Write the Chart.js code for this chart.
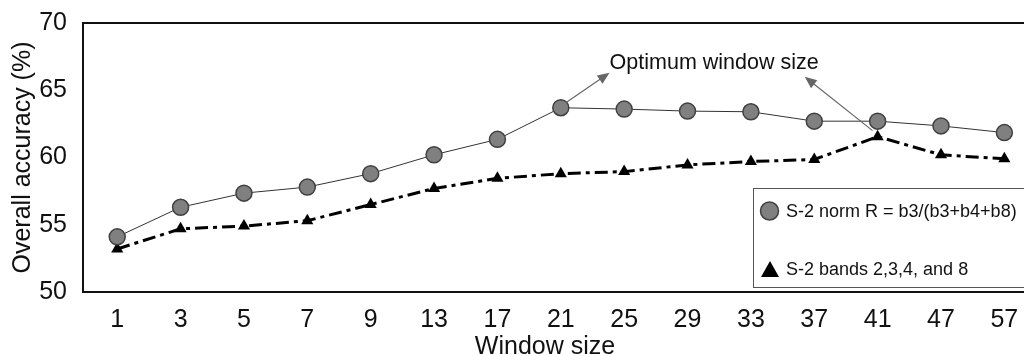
<!DOCTYPE html>
<html>
<head>
<meta charset="utf-8">
<script src="https://cdn.jsdelivr.net/npm/chart.js@4"></script>
<style>
  body { margin:0; background:#fff; overflow:hidden; }
</style>
</head>
<body>
<canvas id="chart" width="1024" height="356"></canvas>
<script>
let windowSizes = ['1','3','5','7','9','13','17','21','25','29','33','37','41','47','57'];
let normR = [54.1,56.3,57.35,57.8,58.8,60.2,61.35,63.7,63.6,63.45,63.4,62.7,62.7,62.35,61.85];
let bands = [53.2,54.7,54.9,55.3,56.5,57.7,58.45,58.8,58.95,59.45,59.7,59.85,61.55,60.2,59.9];
let yTicks = [50,55,60,65,70];
let legendLabels = ['S-2 norm R = b3/(b3+b4+b8)','S-2 bands 2,3,4, and 8'];
let note = 'Optimum window size';

const font = 'Liberation Sans, Arial, sans-serif';

// points sit at the category index; the axis shows the window size
let toPoints = (arr)=> arr.map((v,i)=>({x:i, y:v}));

function arrow(c, x1, y1, x2, y2){
    let a = Math.atan2(y2-y1, x2-x1);
    c.beginPath();
    c.moveTo(x1,y1);
    c.lineTo(x2 - 8*Math.cos(a), y2 - 8*Math.sin(a));
    c.stroke();
    c.beginPath();
    c.moveTo(x2,y2);
    c.lineTo(x2 - 12*Math.cos(a) + 5*Math.sin(a), y2 - 12*Math.sin(a) - 5*Math.cos(a));
    c.lineTo(x2 - 12*Math.cos(a) - 5*Math.sin(a), y2 - 12*Math.sin(a) + 5*Math.cos(a));
    c.closePath();
    c.fill();
}

let extras = {
    id:'extras',
    afterDatasetsDraw(chart){
        let c = chart.ctx, a = chart.chartArea;
        let xs = chart.scales.x, ys = chart.scales.y;
        c.save();
        // frame (right side falls outside the picture)
        c.strokeStyle = '#111';
        c.lineWidth = 2;
        c.strokeRect(a.left, a.top, chart.width + 5 - a.left, a.bottom - a.top);

        // arrows + note
        c.strokeStyle = '#666';
        c.fillStyle = '#666';
        c.lineWidth = 1.2;
        arrow(c, xs.getPixelForValue(7) + 5, ys.getPixelForValue(normR[7]) - 5,
                 xs.getPixelForValue(7.77), ys.getPixelForValue(66.3));
        arrow(c, xs.getPixelForValue(11.92), ys.getPixelForValue(bands[12]) - 6,
                 xs.getPixelForValue(10.85), ys.getPixelForValue(66.0));
        c.fillStyle = '#111';
        c.font = '21.5px ' + font;
        c.textBaseline = 'middle';
        c.textAlign = 'left';
        c.fillText(note, xs.getPixelForValue(7.77), ys.getPixelForValue(67.0));

        // legend box
        let lx = 753, ly = 188;
        c.fillStyle = '#fff';
        c.fillRect(lx, ly, 300, 99);
        c.strokeStyle = '#555';
        c.lineWidth = 1;
        c.strokeRect(lx + 0.5, ly + 0.5, 300, 99);
        c.fillStyle = '#808080';
        c.strokeStyle = '#404040';
        c.lineWidth = 1.5;
        c.beginPath();
        c.arc(769.5, 211, 9, 0, Math.PI*2);
        c.fill(); c.stroke();
        c.fillStyle = '#000';
        c.beginPath();
        c.moveTo(770, 261); c.lineTo(779, 277); c.lineTo(761, 277); c.closePath();
        c.fill();
        c.fillStyle = '#111';
        c.font = '18px ' + font;
        c.fillText(legendLabels[0], 786, 212);
        c.fillText(legendLabels[1], 786, 270);

        // x title
        c.font = '25px ' + font;
        c.textAlign = 'center';
        c.textBaseline = 'alphabetic';
        c.fillText('Window size', 545, 354);
        c.restore();
    }
};

let ctx = document.getElementById('chart').getContext('2d');
let chart = new Chart(ctx,{
    type:'line',
    data:{
        datasets:[{
            label:legendLabels[1],
            data:toPoints(bands),
            borderColor:'#000',
            borderWidth:3,
            borderDash:[13,5,4,5],
            backgroundColor:'#000',
            pointStyle:'triangle',
            pointRadius:7,
            pointBorderWidth:0,
            order:2,
        },{
            label:legendLabels[0],
            data:toPoints(normR),
            borderColor:'#333',
            borderWidth:1,
            pointBackgroundColor:'#808080',
            pointBorderColor:'#404040',
            pointBorderWidth:1.5,
            pointStyle:'circle',
            pointRadius:8,
            order:1,
        }]
    },
    options:{
        animation:false,
        responsive:false,
        clip:false,
        layout:{ padding:{ top:23, right:0, left:0, bottom:0 } },
        plugins:{
            legend:{ display:false },
            tooltip:{ enabled:false },
        },
        elements:{ line:{ tension:0 } },
        scales:{
            x:{
                type:'linear',
                min:-0.54,
                max:14.16,
                grid:{ display:false },
                border:{ display:false },
                afterBuildTicks:(s)=>{ s.ticks = windowSizes.map((w,i)=>({value:i})); },
                ticks:{
                    color:'#111', padding:5, maxRotation:0, autoSkip:false,
                    callback:(val)=>windowSizes[val],
                    font:{ size:25, family:font }
                },
                afterFit:(s)=>{ s.height = 64; },
            },
            y:{
                min:50,
                max:70,
                grid:{ display:false },
                border:{ display:false },
                afterBuildTicks:(s)=>{ s.ticks = yTicks.map(v=>({value:v})); },
                ticks:{ color:'#111', padding:8, font:{ size:25, family:font } },
                title:{ display:true, text:'Overall accuracy (%)', color:'#111', padding:{top:8,bottom:0}, font:{ size:25, family:font } },
                afterFit:(s)=>{ s.width = 83; },
            },
        },
    },
    plugins:[extras]
});
</script>
</body>
</html>
